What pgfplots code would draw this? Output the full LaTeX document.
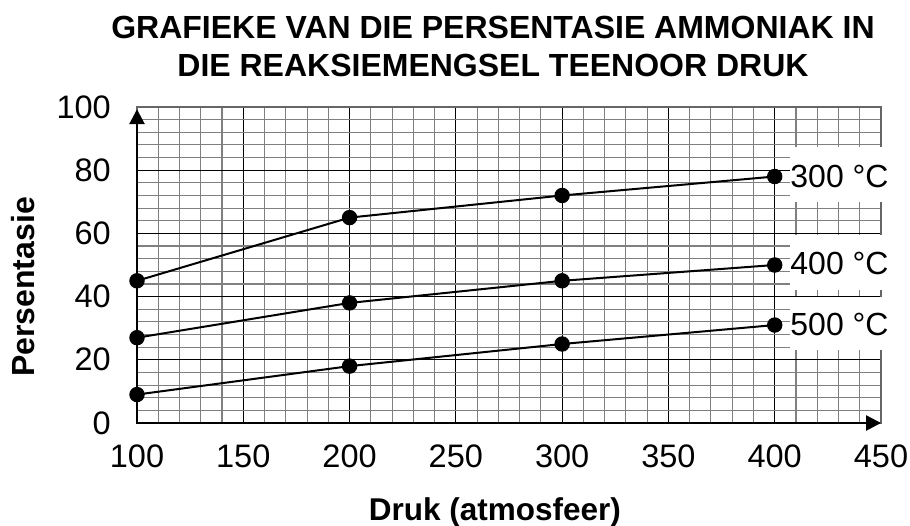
\documentclass[border=0pt]{standalone}
\usepackage{fontspec}
\setmainfont{Liberation Sans}
\usepackage{pgfplots}
\pgfplotsset{compat=1.18}
\usetikzlibrary{arrows.meta}
\begin{document}
\begin{tikzpicture}
\useasboundingbox (-137pt,-102pt) rectangle (773pt,423pt);
\begin{axis}[
  scale only axis, width=744pt, height=316pt,
  xmin=100, xmax=450, ymin=0, ymax=100,
  xtick={100,150,...,450}, ytick={0,20,...,100},
  minor x tick num=4, minor y tick num=4,
  grid=both,
  major grid style={black, line width=0.9pt},
  minor grid style={black!50, line width=1.1pt},
  major tick length=0pt, minor tick length=0pt,
  axis line style={black!60, line width=1.1pt},
  clip=false,
  /pgf/number format/assume math mode=true,
  tick label style={font=\fontsize{32.5}{38}\selectfont, inner sep=0pt},
  xticklabel style={anchor=base, yshift=-44.5pt},
  yticklabel style={anchor=east, xshift=-26pt},
  xlabel={Druk (atmosfeer)},
  xlabel style={at={(axis description cs:0.4812,-0.3070)}, anchor=base, inner sep=0pt, font=\bfseries\fontsize{31.5}{36}\selectfont},
  ylabel={Persentasie},
  ylabel style={at={(axis description cs:-0.1532,0.4304)}, anchor=center, inner sep=0pt, font=\bfseries\fontsize{32}{36}\selectfont},
]
\addplot[black, line width=2pt, mark=*, mark size=7.2pt, mark options={line width=1pt, fill=black}] coordinates {(100,45) (200,65) (300,72) (400,78)};
\addplot[black, line width=2pt, mark=*, mark size=7.2pt, mark options={line width=1pt, fill=black}] coordinates {(100,27) (200,38) (300,45) (400,50)};
\addplot[black, line width=2pt, mark=*, mark size=7.2pt, mark options={line width=1pt, fill=black}] coordinates {(100,9) (200,18) (300,25) (400,31)};
\fill[white] (axis cs:407,70) rectangle (axis cs:456,87.3);
\fill[white] (axis cs:407,42.1) rectangle (axis cs:456,59.6);
\fill[white] (axis cs:407,23.1) rectangle (axis cs:456,39.8);
\draw[black, line width=2.7pt, line join=miter, {Triangle[length=15pt,width=15pt]}-{Triangle[length=15pt,width=15pt]}] (axis cs:100,99.3) -- (axis cs:100,0) -- (axis cs:450,0);
\node[anchor=west, inner sep=0pt, font=\fontsize{32}{36}\selectfont] at (axis cs:407.3,78) {300 °C};
\node[anchor=west, inner sep=0pt, font=\fontsize{32}{36}\selectfont] at (axis cs:407.3,50.5) {400 °C};
\node[anchor=west, inner sep=0pt, font=\fontsize{32}{36}\selectfont] at (axis cs:407.3,31.3) {500 °C};
\end{axis}
\node[anchor=base, inner sep=0pt, font=\bfseries\fontsize{32}{36}\selectfont] at (356pt,384pt) {GRAFIEKE VAN DIE PERSENTASIE AMMONIAK IN};
\node[anchor=base, inner sep=0pt, font=\bfseries\fontsize{32}{36}\selectfont] at (356pt,346pt) {DIE REAKSIEMENGSEL TEENOOR DRUK};
\end{tikzpicture}
\end{document}
